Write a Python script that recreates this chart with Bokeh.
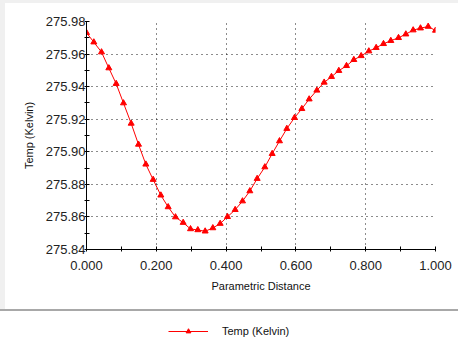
from bokeh.plotting import figure
from bokeh.layouts import column, row
from bokeh.models import (Range1d, FixedTicker, PrintfTickFormatter, Div,
                          Legend, LegendItem)
from bokeh.embed import file_html
from bokeh.resources import INLINE

# ---- data ----
distance = [0.000, 0.021, 0.043, 0.064, 0.085, 0.106, 0.128, 0.149, 0.170, 0.191,
            0.213, 0.234, 0.255, 0.277, 0.298, 0.319, 0.340, 0.362, 0.383, 0.404,
            0.426, 0.447, 0.468, 0.489, 0.511, 0.532, 0.553, 0.574, 0.596, 0.617,
            0.638, 0.660, 0.681, 0.702, 0.723, 0.745, 0.766, 0.787, 0.809, 0.830,
            0.851, 0.872, 0.894, 0.915, 0.936, 0.957, 0.979, 1.000]
temp = [275.9731, 275.9673, 275.9612, 275.9514, 275.9418, 275.9299, 275.9174, 275.9045,
        275.8923, 275.8829, 275.8733, 275.8661, 275.8599, 275.8565, 275.8526, 275.8520,
        275.8512, 275.8532, 275.8559, 275.8601, 275.8644, 275.8697, 275.8759, 275.8835,
        275.8906, 275.8988, 275.9066, 275.9142, 275.9209, 275.9264, 275.9323, 275.9377,
        275.9426, 275.9461, 275.9498, 275.9528, 275.9565, 275.9589, 275.9618, 275.9639,
        275.9663, 275.9682, 275.9700, 275.9722, 275.9747, 275.9759, 275.9769, 275.9745]
x_ticks = [0.0, 0.2, 0.4, 0.6, 0.8, 1.0]
x_minor = [0.1, 0.3, 0.5, 0.7, 0.9]
y_ticks = [275.84, 275.86, 275.88, 275.90, 275.92, 275.94, 275.96, 275.98]
y_minor = [275.85, 275.87, 275.89, 275.91, 275.93, 275.95, 275.97]
series_name = "Temp (Kelvin)"
x_label = "Parametric Distance"
y_label = "Temp (Kelvin)"

FONT = "Liberation Sans"
RED = "#ff0000"
PANEL_GRAY = "#f0f0f0"

p = figure(width=453, height=306, output_backend="svg", toolbar_location=None,
           x_range=Range1d(x_ticks[0], x_ticks[-1]),
           y_range=Range1d(y_ticks[0], y_ticks[-1]),
           min_border_left=81, min_border_right=23, min_border_top=18,
           min_border_bottom=60)
p.outline_line_color = None
p.background_fill_color = "white"
p.border_fill_color = "white"

p.line(distance, temp, line_color=RED, line_width=1)
p.scatter(distance, temp, marker="triangle", size=6, fill_color=RED, line_color=RED)

for ax, ticks, minor, fmt in ((p.xaxis[0], x_ticks, x_minor, "%.3f"),
                              (p.yaxis[0], y_ticks, y_minor, "%.2f")):
    ax.ticker = FixedTicker(ticks=ticks, minor_ticks=minor)
    ax.formatter = PrintfTickFormatter(format=fmt)
    ax.axis_line_color = "black"
    ax.axis_line_width = 1
    ax.major_tick_line_color = "black"
    ax.minor_tick_line_color = "black"
    ax.major_tick_in = 3
    ax.major_tick_out = 2
    ax.minor_tick_in = 3
    ax.minor_tick_out = 2
    ax.major_label_text_font = FONT
    ax.major_label_text_font_size = "13px"
    ax.major_label_text_color = "#222222"
    ax.axis_label_text_font = FONT
    ax.axis_label_text_font_size = "11px"
    ax.axis_label_text_font_style = "normal"
    ax.axis_label_text_color = "#111111"

p.xaxis[0].axis_label = x_label
p.xaxis[0].major_label_standoff = 9
p.xaxis[0].axis_label_standoff = 7
p.yaxis[0].axis_label = y_label
p.yaxis[0].major_label_standoff = -1
p.yaxis[0].axis_label_standoff = 8

for g in (p.xgrid[0], p.ygrid[0]):
    g.grid_line_color = "black"
    g.grid_line_dash = "1 4"
    g.grid_line_width = 1
    g.grid_line_alpha = 0.9
p.xgrid[0].ticker = FixedTicker(ticks=x_ticks)
p.ygrid[0].ticker = FixedTicker(ticks=y_ticks)

# light panel edges (top and left) and the separator line
top_edge = Div(text="", width=458, height=3, margin=0,
               styles={"background-color": PANEL_GRAY})
left_edge = Div(text="", width=5, height=306, margin=0,
                styles={"background-color": PANEL_GRAY})
sep = Div(text="", width=458, height=2, margin=0,
          styles={"background-color": "#a8a8a8"})

# legend strip (renderers here are out of this strip's view; only the legend shows)
p2 = figure(width=458, height=32, output_backend="svg", toolbar_location=None,
            x_range=Range1d(0, 1), y_range=Range1d(0, 1),
            min_border_left=86, min_border_right=23, min_border_top=0,
            min_border_bottom=0)
p2.axis.visible = False
p2.grid.visible = False
p2.outline_line_color = None
l_line = p2.line(distance, temp, line_color=RED, line_width=1)
l_mark = p2.scatter(distance, temp, marker="triangle", size=5, fill_color=RED,
                    line_color=RED)
leg = Legend(items=[LegendItem(label=series_name, renderers=[l_line, l_mark])],
             location=(82, 6), glyph_width=40, glyph_height=12, label_height=12,
             label_standoff=14, label_text_font=FONT, label_text_font_size="11px",
             label_text_color="#111111", padding=0, margin=0, spacing=0,
             border_line_color=None, background_fill_alpha=0)
p2.add_layout(leg)

layout = column(top_edge, row(left_edge, p, spacing=0), sep, p2, spacing=0)
open("out.html", "w").write(file_html(layout, INLINE))
